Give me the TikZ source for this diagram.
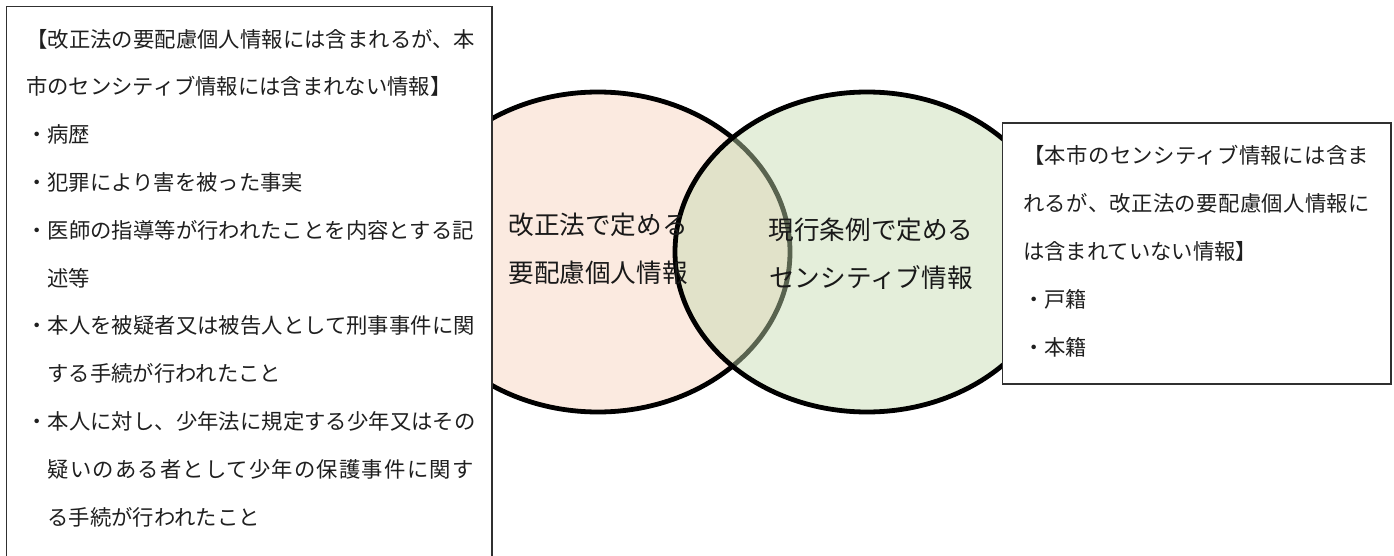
\documentclass[tikz,border=0pt]{standalone}
\usepackage{fontspec}
\setmainfont{Noto Sans CJK JP}
\definecolor{peach}{HTML}{FBEAE0}
\definecolor{leaf}{HTML}{C4D9AE}
\definecolor{boxline}{HTML}{303030}
\begin{document}
\begin{tikzpicture}[x=0.75pt,y=-0.75pt,
  boxtext/.style={anchor=west,inner sep=0pt,text height=0.88em,text depth=0.12em,
    font=\fontsize{16}{16}\selectfont,text=black!88},
  venntext/.style={anchor=center,inner sep=0pt,text height=0.88em,text depth=0.12em,
    font=\fontsize{19.2}{19.2}\selectfont,text=black!90},
  infobox/.style={draw=boxline,line width=1pt,fill=white},
  vennline/.style={line width=3.6pt,draw=black}]
\useasboundingbox (0,0) rectangle (1394,556);
\clip (0,0) rectangle (1394,556);
% centres of the two sets
\coordinate (cl) at (598,252);
\coordinate (cr) at (867,252);
% left set
\path[fill=peach,vennline] (cl) ellipse [x radius=192,y radius=160];
% right set (semi-transparent fill)
\path[fill=leaf,fill opacity=0.46] (cr) ellipse [x radius=192,y radius=160];
\path[vennline] (cr) ellipse [x radius=192,y radius=160];
% set labels
\node[venntext] (la) at (598,229) {改正法で定める};
\node[venntext] (lb) at (598,277) {要配慮個人情報};
\node[venntext] (ra) at (871,234) {現行条例で定める};
\node[venntext] (rb) at (871,282) {センシティブ情報};
% left box
\draw[infobox] (6.5,6.5) rectangle (492,600);
\node[boxtext] (l1) at (26,42) {\addfontfeature{LetterSpace=0.3}【改正法の要配慮個人情報には含まれるが、本};
\node[boxtext] (l2) at (26,89.8) {市のセンシティブ情報には含まれない情報】};
\node[boxtext] (l3) at (26,137.6) {・病歴};
\node[boxtext] (l4) at (26,185.4) {・犯罪により害を被った事実};
\node[boxtext] (l5) at (26,233.2) {\addfontfeature{LetterSpace=0.3}・医師の指導等が行われたことを内容とする記};
\node[boxtext] (l6) at (47.3,281) {述等};
\node[boxtext] (l7) at (26,328.8) {\addfontfeature{LetterSpace=0.3}・本人を被疑者又は被告人として刑事事件に関};
\node[boxtext] (l8) at (47.3,376.6) {する手続が行われたこと};
\node[boxtext] (l9) at (26,424.4) {\addfontfeature{LetterSpace=0.3}・本人に対し、少年法に規定する少年又はその};
\node[boxtext] (l10) at (47.3,472.2) {\addfontfeature{LetterSpace=5.5}疑いのある者として少年の保護事件に関す};
\node[boxtext] (l11) at (47.3,520) {る手続が行われたこと};
% right box
\draw[infobox] (1002.5,123) rectangle (1391,384);
\node[boxtext] (r1) at (1023,158) {\addfontfeature{LetterSpace=1.8}【本市のセンシティブ情報には含ま};
\node[boxtext] (r2) at (1023,206.2) {\addfontfeature{LetterSpace=1.8}れるが、改正法の要配慮個人情報に};
\node[boxtext] (r3) at (1023,254.4) {は含まれていない情報】};
\node[boxtext] (r4) at (1023,302.6) {・戸籍};
\node[boxtext] (r5) at (1023,350.8) {・本籍};
\end{tikzpicture}
\end{document}
